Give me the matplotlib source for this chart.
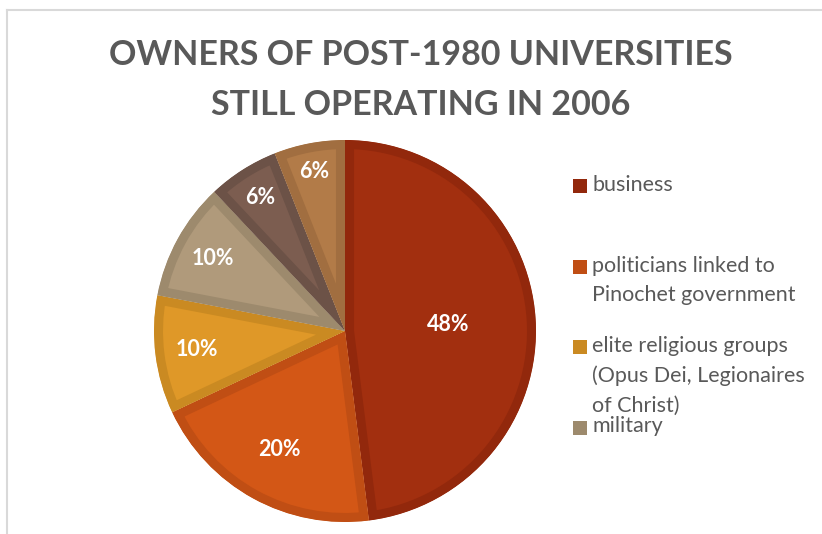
import matplotlib.pyplot as plt
from matplotlib.patches import Rectangle, Wedge

# data
owners = ["business", "politicians linked to\nPinochet government",
          "elite religious groups\n(Opus Dei, Legionaires\nof Christ)",
          "military", "other", "unknown"]
shares = [48, 20, 10, 10, 6, 6]
fills = ["#A22F0F", "#D35716", "#DF9828", "#B09A7B", "#7C5D50", "#B27B48"]
edges = ["#92280C", "#C04E14", "#CA8A22", "#9D8A6D", "#6C5247", "#A16E40"]
pct_r = [0.54, 0.71, 0.78, 0.79, 0.83, 0.85]
shown = 4  # legend in the original only lists the first four

W, H = 822, 534
fig = plt.figure(figsize=(W / 100, H / 100), dpi=100)
grey = "#595959"

# chart area border
fig.add_artist(plt.Line2D([6.5 / W, 6.5 / W], [0, 1 - 9.5 / H], color="#D9D9D9", lw=1.5))
fig.add_artist(plt.Line2D([6.5 / W, 1], [1 - 9.5 / H, 1 - 9.5 / H], color="#D9D9D9", lw=1.5))

fig.text(421 / W, 1 - 55 / H, "OWNERS OF POST-1980 UNIVERSITIES", ha="center", va="center",
         fontsize=24.5, fontweight="bold", color=grey, family="Lato")
fig.text(421 / W, 1 - 105 / H, "STILL OPERATING IN 2006", ha="center", va="center",
         fontsize=24.5, fontweight="bold", color=grey, family="Lato")

cx, cy, r = 345, 331, 191
ax = fig.add_axes([(cx - r) / W, (H - cy - r) / H, 2 * r / W, 2 * r / H])
wedges, _, autotexts = ax.pie(shares, colors=fills, startangle=90, counterclock=False,
                              autopct="%d%%", pctdistance=0.75, radius=1,
                              textprops=dict(color="white", fontsize=15.5,
                                             fontweight="bold", family="Lato"))
for w, ec in zip(wedges, edges):
    # inner band: stroke twice as wide, clipped to the wedge itself
    clip = Wedge(w.center, w.r, w.theta1, w.theta2, transform=ax.transData)
    w.set_edgecolor(ec)
    w.set_linewidth(13)
    w.set_joinstyle("miter")
    w.set_clip_path(clip)
    w.set_clip_on(True)
for t, rr in zip(autotexts, pct_r):
    x, y = t.get_position()
    k = rr / 0.75
    t.set_position((x * k, y * k))
ax.set_xlim(-1, 1)
ax.set_ylim(-1, 1)
ax.axis("off")

# legend
sw_y = [186, 267, 347, 428]
for i in range(shown):
    y = sw_y[i]
    fig.add_artist(Rectangle((572.5 / W, 1 - (y + 7) / H), 14 / W, 14 / H,
                             facecolor=edges[i], edgecolor="none"))
    fig.text(592 / W, 1 - (y - 11.5) / H, owners[i], ha="left", va="top",
             fontsize=15.5, color=grey, family="Lato", linespacing=1.62)

fig.savefig("out.png", dpi=100)
